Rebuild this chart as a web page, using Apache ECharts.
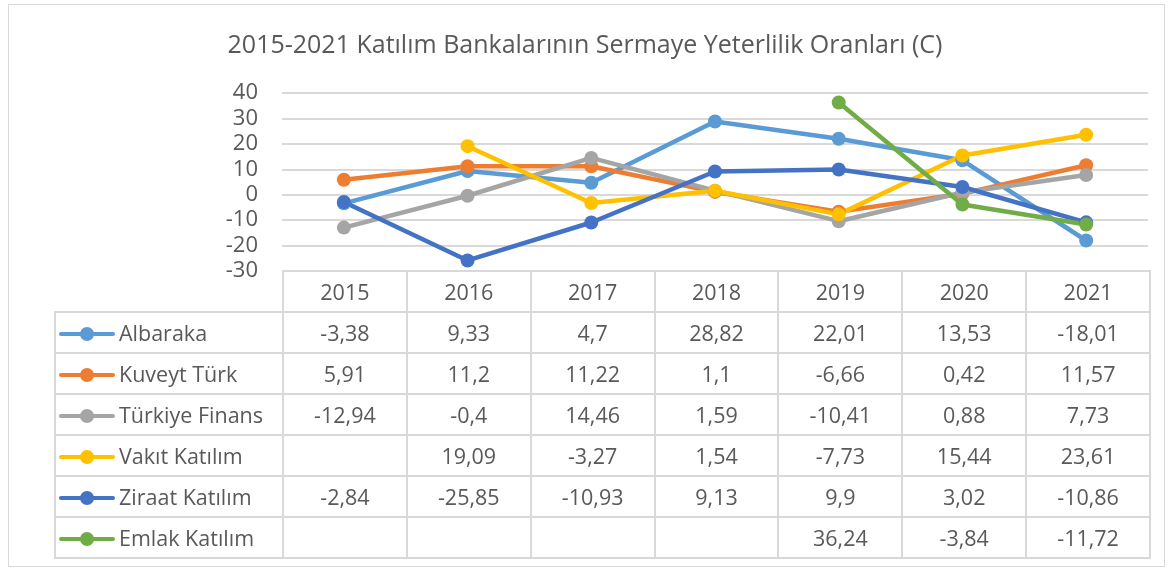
<!DOCTYPE html>
<html>
<head>
<meta charset="utf-8">
<script src="https://cdn.jsdelivr.net/npm/echarts@6/dist/echarts.min.js"></script>
<style>
  body { margin: 0; background: #fff; }
  #wrap { position: relative; width: 1170px; height: 571px; font-family: "Open Sans", sans-serif; color: #595959; }
  #frame { position: absolute; left: 8px; top: 4px; width: 1157px; height: 563px; border: 1px solid #d9d9d9; box-sizing: border-box; }
  #chart { position: absolute; left: 0; top: 0; width: 1170px; height: 571px; }
  #dataTable { position: absolute; left: 54px; top: 270px; width: 1095px; border-collapse: collapse; font-size: 21.5px; table-layout: fixed; }
  #dataTable td { border: 2px solid #d9d9d9; text-align: center; padding: 0; height: 39px; white-space: nowrap; overflow: hidden; }
  #dataTable td.lbl { text-align: left; }
  #dataTable tr.head td.corner { border: none; }
  .key { display: inline-block; position: relative; width: 56px; height: 14px; margin: 0 4px 0 3px; vertical-align: 0px; }
  .key i { position: absolute; left: 0; right: 0; top: 5px; height: 4px; border-radius: 2px; }
  .key b { position: absolute; left: 21px; top: 0; width: 14px; height: 14px; border-radius: 50%; }
</style>
</head>
<body>
<div id="wrap">
  <div id="frame"></div>
  <div id="chart"></div>
  <table id="dataTable"></table>
</div>
<script>
// yıllar
const years = ['2015', '2016', '2017', '2018', '2019', '2020', '2021']

// bankalar ve renkleri
const banks = ['Albaraka', 'Kuveyt Türk', 'Türkiye Finans', 'Vakıt Katılım', 'Ziraat Katılım', 'Emlak Katılım']
const colors = ['#5B9BD5', '#ED7D31', '#A5A5A5', '#FFC000', '#4472C4', '#70AD47']

// sermaye yeterlilik oranları
const albaraka = [-3.38, 9.33, 4.7, 28.82, 22.01, 13.53, -18.01]
const kuveytTurk = [5.91, 11.2, 11.22, 1.1, -6.66, 0.42, 11.57]
const turkiyeFinans = [-12.94, -0.4, 14.46, 1.59, -10.41, 0.88, 7.73]
const vakitKatilim = [null, 19.09, -3.27, 1.54, -7.73, 15.44, 23.61]
const ziraatKatilim = [-2.84, -25.85, -10.93, 9.13, 9.9, 3.02, -10.86]
const emlakKatilim = [null, null, null, null, 36.24, -3.84, -11.72]

const seriesData = [albaraka, kuveytTurk, turkiyeFinans, vakitKatilim, ziraatKatilim, emlakKatilim]

// y ekseni
const yMin = -30
const yMax = 40
const yStep = 10

const fmt = (v) => (v === null ? '' : String(v).replace('.', ','))

// veri tablosu
const table = document.getElementById('dataTable')
let html = '<colgroup><col style="width:228px">'
years.forEach(() => { html += '<col style="width:123.86px">' })
html += '</colgroup><tr class="head"><td class="lbl corner"></td>'
years.forEach(y => { html += `<td>${y}</td>` })
html += '</tr>'
banks.forEach((name, i) => {
  html += `<tr><td class="lbl"><span class="key"><i style="background:${colors[i]}"></i><b style="background:${colors[i]}"></b></span>${name}</td>`
  seriesData[i].forEach(v => { html += `<td>${fmt(v)}</td>` })
  html += '</tr>'
})
table.innerHTML = html

const chart = echarts.init(document.getElementById('chart'))

const option = {
  animation: false,
  textStyle: { fontFamily: 'Open Sans' },
  title: {
    text: '2015-2021 Katılım Bankalarının Sermaye Yeterlilik Oranları (C)',
    left: 'center',
    top: 28,
    textStyle: { fontSize: 25, fontWeight: 'normal', color: '#595959', fontFamily: 'Open Sans' }
  },
  grid: { left: 282, right: 22, top: 93, bottom: 300 },
  xAxis: {
    type: 'category',
    data: years,
    boundaryGap: true,
    axisLine: { show: false },
    axisTick: { show: false },
    axisLabel: { show: false }
  },
  yAxis: {
    type: 'value',
    min: yMin,
    max: yMax,
    interval: yStep,
    axisLine: { show: false },
    axisTick: { show: false },
    axisLabel: { color: '#595959', fontSize: 22, margin: 24 },
    splitLine: { lineStyle: { color: '#d9d9d9', width: 2 } }
  },
  series: banks.map((name, i) => ({
    name: name,
    type: 'line',
    data: seriesData[i],
    connectNulls: false,
    symbol: 'circle',
    symbolSize: 14,
    lineStyle: { color: colors[i], width: 4.5 },
    itemStyle: { color: colors[i] }
  }))
}

chart.setOption(option)
</script>
</body>
</html>
